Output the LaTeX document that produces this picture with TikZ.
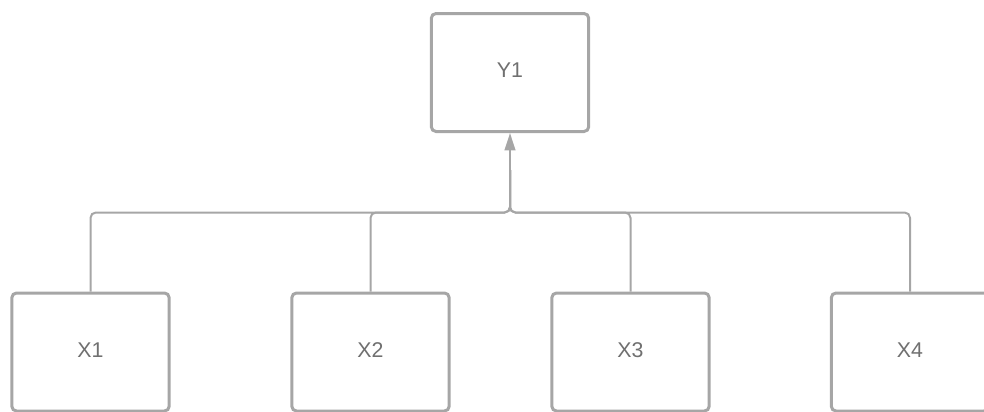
\documentclass[tikz,border=0pt]{standalone}
\usepackage{fontspec}
\setmainfont{Liberation Sans}
\usetikzlibrary{arrows.meta}
\definecolor{edgegray}{HTML}{A6A6A6}
\definecolor{txtgray}{HTML}{707070}
\begin{document}
\begin{tikzpicture}[x=0.75pt,y=-0.75pt,
  box/.style={draw=edgegray, line width=2.25pt, rounded corners=3.5pt,
    minimum width=118pt, minimum height=88.5pt, inner sep=0pt, text depth=3pt,
    text=txtgray, font=\fontsize{16}{19}\selectfont, fill=white},
  conn/.style={draw=edgegray, line width=1.5pt, rounded corners=4pt},
  tip/.style={-{Triangle[length=13pt,width=8pt]}},
]
\useasboundingbox (0,0) rectangle (984,411);
\clip (0,0) rectangle (984,411);

\node[box] (y1) at (510,72.5) {Y1};
\node[box] (x1) at (90.5,352) {X1};
\node[box] (x2) at (370.5,352) {X2};
\node[box] (x3) at (630.5,352) {X3};
\node[box] (x4) at (910,352) {X4};

\coordinate (j) at (510,212.5);
\coordinate (ah) at (510,170);

\draw[conn] (x1.north) |- (j) -- (ah);
\draw[conn] (x2.north) |- (j) -- (ah);
\draw[conn] (x3.north) |- (j) -- (ah);
\draw[conn] (x4.north) |- (j) -- (ah);
\draw[conn,tip] (ah) -- (y1.south);
\end{tikzpicture}
\end{document}
